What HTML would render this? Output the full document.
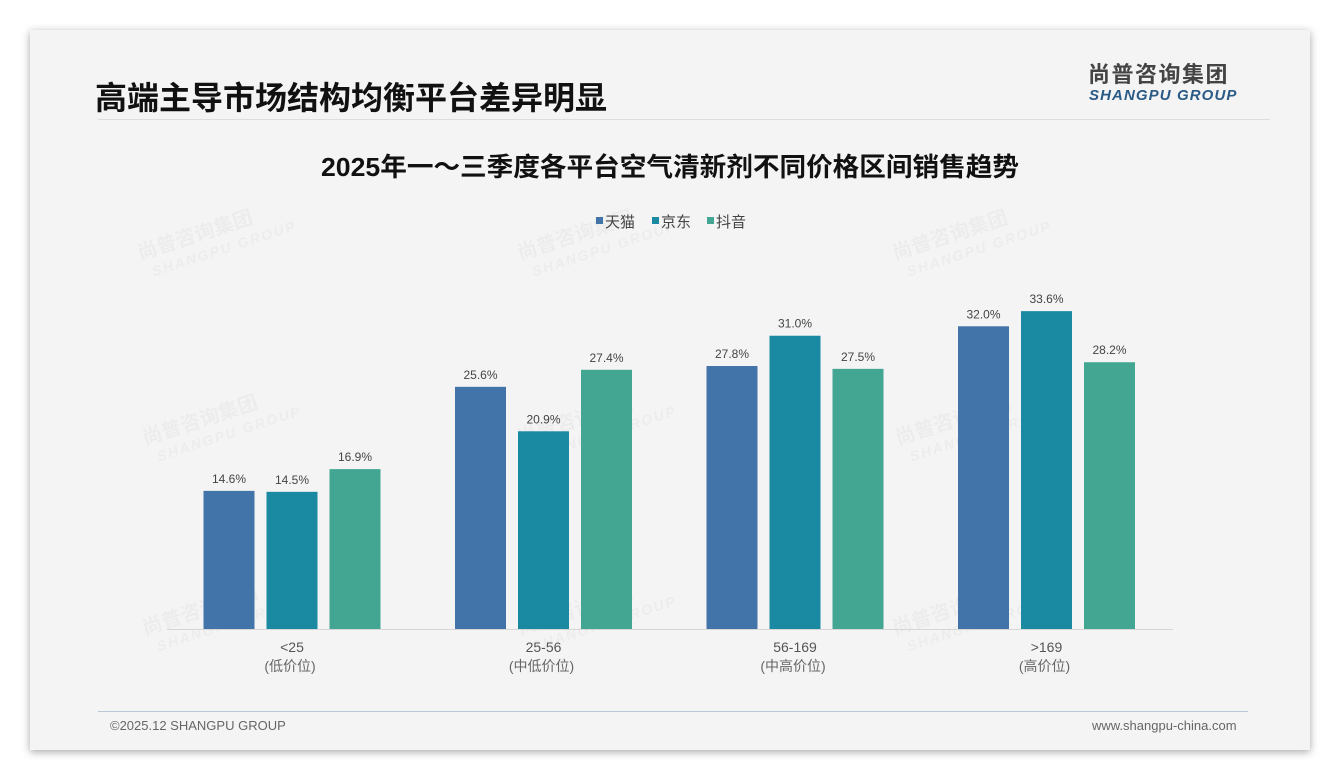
<!DOCTYPE html>
<html><head><meta charset="utf-8">
<style>
html,body{margin:0;padding:0;background:#fff;}
body{width:1340px;height:780px;position:relative;overflow:hidden;font-family:"Liberation Sans","Noto Sans CJK SC",sans-serif;}
#card{position:absolute;left:30px;top:30px;width:1280px;height:720px;background:#f4f4f4;box-shadow:0 2px 8px rgba(0,0,0,0.35);}
.abs{position:absolute;}
</style></head><body>
<div id="card">
  <div class="abs" style="left:65px;top:43px;font-size:32px;font-weight:bold;color:#111;letter-spacing:0px;">高端主导市场结构均衡平台差异明显</div>
  <div class="abs" style="left:68px;top:89px;width:1172px;height:1px;background:#ddd;"></div>
  <div class="abs" style="left:1058px;top:32px;font-size:22px;line-height:26px;font-weight:bold;color:#444;letter-spacing:1.5px;">尚普咨询集团</div>
  <div class="abs" style="left:1059px;top:57px;font-size:15px;font-weight:bold;font-style:italic;color:#2a5a86;letter-spacing:1.1px;">SHANGPU GROUP</div>
  <div class="abs" style="left:68px;top:681px;width:1150px;height:1px;background:#b8c8d8;"></div>
  <div class="abs" style="left:80px;top:688px;font-size:13px;color:#666;">©2025.12 SHANGPU GROUP</div>
  <div class="abs" style="left:1062px;top:688px;font-size:13px;color:#666;">www.shangpu-china.com</div>
</div>
<svg id="chart" class="abs" style="left:0;top:0" width="1340" height="780"></svg>
<script>
const categories=["<25","25-56","56-169",">169"];
const subLabels=["(低价位)","(中低价位)","(中高价位)","(高价位)"];
const seriesNames=["天猫","京东","抖音"];
const tmall=[14.6,25.6,27.8,32.0];
const jd=[14.5,20.9,31.0,33.6];
const douyin=[16.9,27.4,27.5,28.2];
const colors=["#4374a9","#1a89a2","#42a693"];
const series=[tmall,jd,douyin];
const NS="http://www.w3.org/2000/svg";
const svg=document.getElementById('chart');
const baseY=629, pxPer=9.46, groupStart=292, groupStep=251.5, barW=51, barStep=63;
function yScale(v){return baseY-v*pxPer;}
function xGroup(i){return groupStart+i*groupStep;}
function mk(tag,attrs,txt){const e=document.createElementNS(NS,tag);for(const k in attrs)e.setAttribute(k,attrs[k]);if(txt!==undefined)e.textContent=txt;svg.appendChild(e);return e;}
const wm=[[140,260],[520,260],[895,260],[145,445],[520,445],[898,445],[145,635],[520,635],[895,635]];
wm.forEach(p=>{
  const g=mk('text',{x:p[0],y:p[1],transform:`rotate(-18 ${p[0]} ${p[1]})`,'font-size':20,fill:'#000','fill-opacity':0.03,'font-weight':'bold'},'尚普咨询集团');
  
  
  const g2=mk('text',{x:p[0]+8,y:p[1]+20,transform:`rotate(-18 ${p[0]} ${p[1]})`,'font-size':14,fill:'#000','fill-opacity':0.03,'font-weight':'bold','font-style':'italic','letter-spacing':2},'SHANGPU GROUP');
  
  
});
const t=mk('text',{x:670,y:176,'text-anchor':'middle','font-size':26,'font-weight':'bold',fill:'#111',textLength:698,lengthAdjust:'spacingAndGlyphs'},'2025年一～三季度各平台空气清新剂不同价格区间销售趋势');


const lx=[596,652,707];
seriesNames.forEach((n,i)=>{
  const r=mk('rect',{x:lx[i],y:217,width:7,height:7,fill:colors[i]});
  
  
  const tx=mk('text',{x:lx[i]+9,y:227,'font-size':15,fill:'#444'},n);
  
  
});
const ax=mk('line',{x1:167,x2:1173,y1:baseY+0.5,y2:baseY+0.5,stroke:'#d6d6d6','stroke-width':1});


categories.forEach((c,i)=>{
  const cx=xGroup(i);
  series.forEach((s,j)=>{
    const x=cx-barStep+j*barStep-barW/2;
    const y=yScale(s[i]);
    const b=mk('rect',{x:x,y:y,width:barW,height:baseY-y,fill:colors[j]});
    
    
    const l=mk('text',{x:x+barW/2,y:y-8,'text-anchor':'middle','font-size':12,fill:'#444'},s[i].toFixed(1)+'%');
    
    
  });
  const a=mk('text',{x:cx,y:652,'text-anchor':'middle','font-size':14,fill:'#555'},c);
  
  
  const b2=mk('text',{x:cx-2,y:671,'text-anchor':'middle','font-size':14,fill:'#666'},subLabels[i]);
  
  
});
</script>
</body></html>
